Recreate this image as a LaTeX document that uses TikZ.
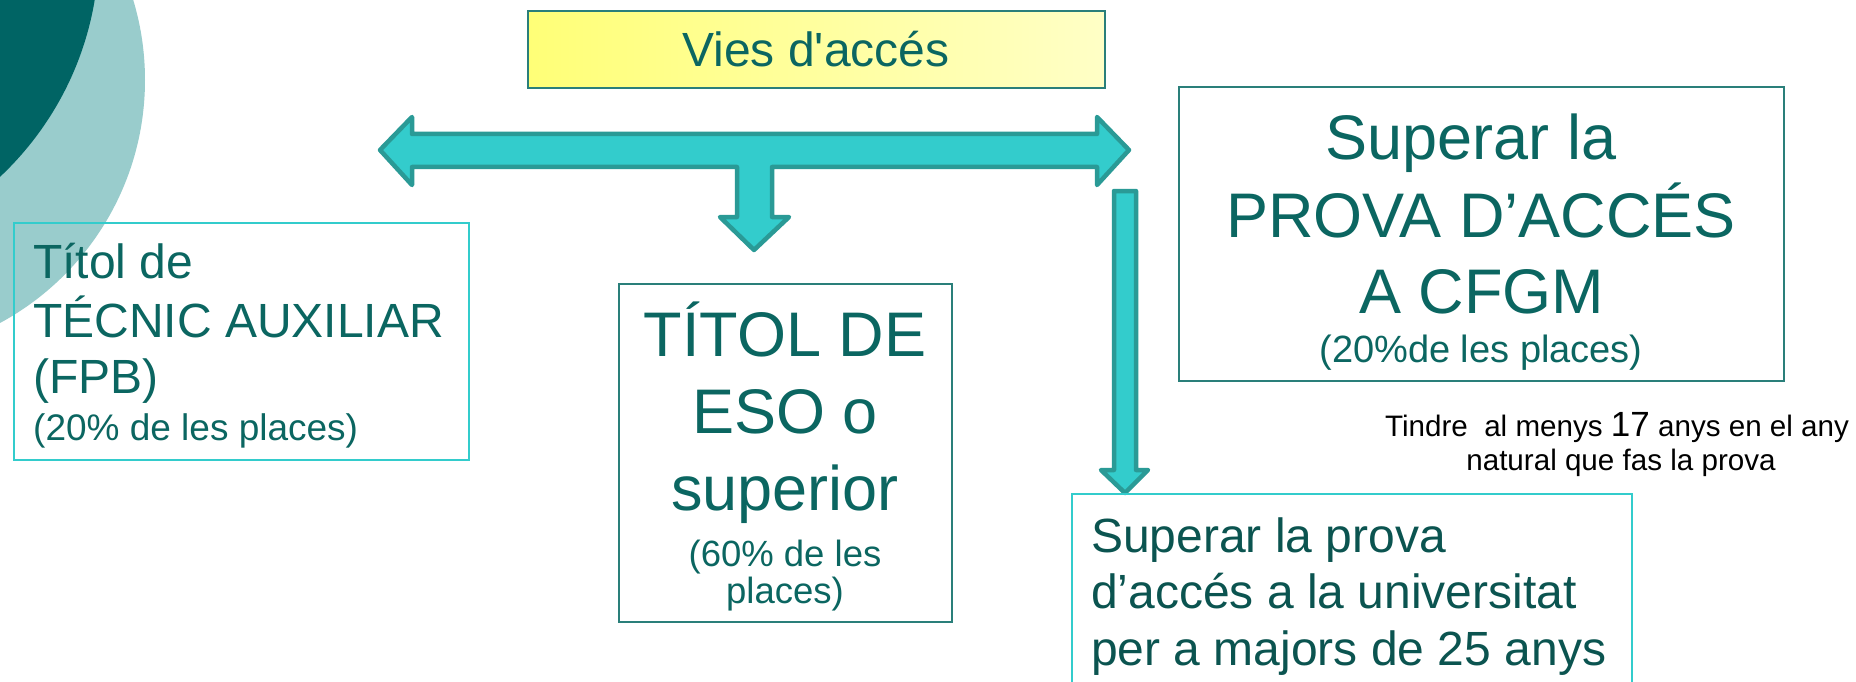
\documentclass[tikz,border=0pt]{standalone}
\usepackage{fontspec}
\newfontfamily\arial{Liberation Sans}
\definecolor{darkteal}{HTML}{006464}
\definecolor{lightteal}{HTML}{99CCCC}
\definecolor{txtteal}{HTML}{0B6661}
\definecolor{txtdark}{HTML}{0B5450}
\definecolor{cyanline}{HTML}{33CCCC}
\definecolor{boxline}{HTML}{2A7F7A}
\definecolor{arrowfill}{HTML}{33CCCC}
\definecolor{arrowline}{HTML}{2A9A96}
\definecolor{yellowA}{HTML}{FFFF77}
\definecolor{yellowB}{HTML}{FFFFC6}
\begin{document}
\begin{tikzpicture}[x=1pt,y=-1pt,
  cyanbox/.style={draw=cyanline, line width=1.6pt, inner sep=0pt, anchor=north west},
  tealbox/.style={draw=boxline, line width=2pt, inner sep=0pt, anchor=north west},
  blockarrow/.style={fill=arrowfill, draw=arrowline, line width=4.5pt, line join=round},
  big/.style={inner sep=0pt, text=txtteal, font=\arial\fontsize{63}{76}\selectfont},
  mid/.style={inner sep=0pt, text=txtteal, font=\arial\fontsize{48}{56}\selectfont},
  small/.style={inner sep=0pt, text=txtteal, font=\arial\fontsize{37}{42}\selectfont},
  majtxt/.style={inner sep=0pt, text=txtdark, font=\arial\fontsize{48}{56}\selectfont, anchor=base west},
  note/.style={inner sep=0pt, text=black, font=\arial\fontsize{29.6}{34}\selectfont}]
\useasboundingbox (0,0) rectangle (1856,682);
\fill[white] (0,0) rectangle (1856,682);
% decorative circles
\begin{scope}
  \clip (0,0) rectangle (1856,682);
  \fill[lightteal] (-131,80) circle[radius=276];
  \fill[darkteal] (-215,-52) circle[radius=314];
\end{scope}
% title box
\node[draw=boxline, line width=2pt, left color=yellowA, right color=yellowB, inner sep=0pt,
      anchor=north west, minimum width=577pt, minimum height=77pt] (title) at (527,10) {};
\node[inner sep=0pt, anchor=base, text=txtteal, font=\arial\fontsize{48}{56}\selectfont] (titletxt) at (816,67) {Vies d'accés};
% block arrows
\draw[blockarrow] (380,150) -- (412,117) -- (412,134) -- (1097,134) -- (1097,117) -- (1129,150)
  -- (1097,185) -- (1097,167) -- (772,167) -- (772,217) -- (789,217) -- (754,250) -- (720,217)
  -- (737,217) -- (737,167) -- (412,167) -- (412,185) -- cycle;
\draw[blockarrow] (1114,191) -- (1136,191) -- (1136,470) -- (1148,470) -- (1125,493) -- (1101,470)
  -- (1114,470) -- cycle;
% FPB box
\node[cyanbox, minimum width=455pt, minimum height=237pt] (fpb) at (13,222) {};
\node[mid, anchor=base west] (fpb1) at (33,278) {Títol de};
\node[mid, anchor=base west] (fpb2) at (33,337) {TÉCNIC AUXILIAR};
\node[mid, anchor=base west] (fpb3) at (33,393) {(FPB)};
\node[small, anchor=base west] (fpb4) at (33,440) {(20\% de les places)};
% ESO box
\node[tealbox, minimum width=333pt, minimum height=338pt] (eso) at (618,283) {};
\node[big, anchor=base] (eso1) at (785,356) {TÍTOL DE};
\node[big, anchor=base] (eso2) at (785,433) {ESO o};
\node[big, anchor=base] (eso3) at (785,510) {superior};
\node[small, anchor=base, font=\arial\fontsize{36.5}{42}\selectfont] (eso4) at (785,566) {(60\% de les};
\node[small, anchor=base, font=\arial\fontsize{36.5}{42}\selectfont] (eso5) at (785,603) {places)};
% CFGM box
\node[tealbox, minimum width=605pt, minimum height=294pt] (cfgm) at (1178,86) {};
\node[big, anchor=base] (cfgm1) at (1471,160) {Superar la};
\node[big, anchor=base] (cfgm2) at (1481,237) {PROVA D’ACCÉS};
\node[big, anchor=base] (cfgm3) at (1482,313) {A CFGM};
\node[small, anchor=base, font=\arial\fontsize{38}{42}\selectfont] (cfgm4) at (1481,362) {(20\%de les places)};
% note
\node[note, anchor=base] (note1) at (1617,436) {Tindre\ \ al menys {\fontsize{35}{40}\selectfont 17} anys en el any};
\node[note, anchor=base] (note2) at (1621,470) {natural que fas la prova};
% majors box (cut by the lower edge)
\draw[cyanline, line width=1.6pt] (1072,690) -- (1072,494) -- (1632,494) -- (1632,690);
\coordinate (majors) at (1072,494);
\node[majtxt] (maj1) at (1091,552) {Superar la prova};
\node[majtxt] (maj2) at (1091,608) {d’accés a la universitat};
\node[majtxt] (maj3) at (1091,665) {per a majors de 25 anys};
\end{tikzpicture}
\end{document}
